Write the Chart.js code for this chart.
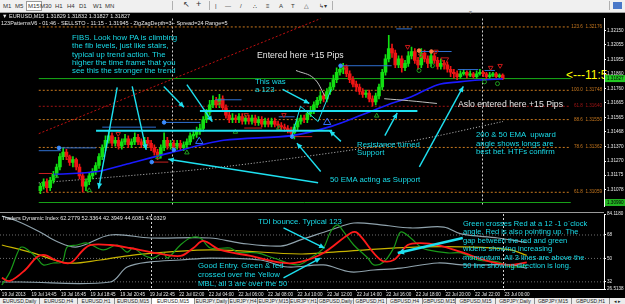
<!DOCTYPE html>
<html lang="en">
<head>
<meta charset="UTF-8">
<title>EURUSD,M15</title>
<script src="https://cdn.jsdelivr.net/npm/chart.js"></script>
<style>
  body { margin:0; width:625px; height:304px; background:#000; overflow:hidden; position:relative; font-family:"Liberation Sans", Arial, sans-serif; }
  #toolbar { position:absolute; left:0; top:0; width:625px; height:12px; background:#f0f0f0; border-bottom:1px solid #a0a0a0; }
  #toolbar span { position:absolute; top:2px; font-size:6px; line-height:8px; color:#333; }
  #toolbar .on { background:#fff; border:1px solid #9a9a9a; top:1px; padding:0 1px; }
  #toolbar .bar { width:1px; height:9px; background:#b0b0b0; top:1px; }
  #mainBox { position:absolute; left:0; top:13px; width:625px; height:199px; z-index:1; }
  #indBox { position:absolute; left:0; top:211px; width:625px; height:87px; z-index:1; }
  #sep { position:absolute; left:0; top:212px; width:604px; height:1px; background:#9a9a9a; z-index:1; }
  .info { position:absolute; color:#e8e8e8; font-size:5.5px; line-height:6px; white-space:nowrap; z-index:2; }
  .note { position:absolute; color:#19dbe8; font-size:7.8px; line-height:8.3px; white-space:pre; z-index:2; }
  .wnote { position:absolute; color:#e6e6e6; font-size:8.7px; line-height:10px; white-space:pre; z-index:2; }
  #timer { position:absolute; left:566px; top:69px; color:#ffff00; font-size:12px; line-height:12px; white-space:nowrap; z-index:0; }
  #tabs { position:absolute; left:0; top:298px; width:625px; height:6px; background:#d4d4d4; }
  #tabs span { position:absolute; top:0; height:6px; font-size:5px; line-height:7px; color:#222; text-align:center; background:#ececec; border-right:1px solid #8a8a8a; box-sizing:border-box; white-space:nowrap; overflow:hidden; }
  #tabs .act { background:#fff; }
</style>
</head>
<body>
<div id="toolbar">
  <span style="left:3px">M1</span><span style="left:15px">M5</span><span class="on" style="left:26px">M15</span>
  <span style="left:40px">M30</span><span style="left:55px">H1</span><span style="left:67px">H4</span>
  <span style="left:79px">D1</span><span style="left:93px">W1</span><span style="left:105px">MN</span>
  <span class="bar" style="left:172px"></span>
  <span style="left:183px;font-size:8px;top:1px">&#8598;</span><span style="left:196px;font-size:9px;top:0">+</span>
  <span class="bar" style="left:209px"></span>
  <span style="left:215px">|</span><span style="left:225px">&#8212;</span><span style="left:240px">/</span>
  <span style="left:253px">&#8756;</span><span style="left:266px">&#8801;</span><span style="left:279px">A</span>
  <span style="left:291px">T</span><span style="left:304px">&#9651;</span><span style="left:319px">&#8627;&#9662;</span>
  <span class="bar" style="left:332px"></span>
  <span style="left:468px;top:8px;color:#888;font-size:5px">&#9660;</span>
  <span class="bar" style="left:609px"></span>
  <span style="left:613px;width:9px;height:7px;background:#4a78c8;top:2px"></span>
</div>

<div id="mainBox"><canvas id="mainChart"></canvas></div>
<div id="sep"></div>
<div id="indBox"><canvas id="indChart"></canvas></div>

<div class="info" style="left:2px;top:13px">&#9660; EURUSD,M15  1.31829 1.31832 1.31827 1.31827</div>
<div class="info" style="left:1px;top:20px">123PatternsV6 - 01:46 - SELLSTO - 11:15 - 1.31945 - ZigZagDepth=3 - Spread=24 Range=5</div>
<div class="info" style="left:2px;top:215px">Traders Dynamic Index 62.2779 52.3364 42.3949 44.6081 47.0329</div>

<div class="note" style="left:72px;top:34px">FIBS. Look how PA is climbing
the fib levels, just like stairs,
typical up trend action. The
higher the time frame that you
see this the stronger the trend</div>
<div class="wnote" style="left:257px;top:50px">Entered here +15 Pips</div>
<div class="note" style="left:255px;top:78px">This was
a 123</div>
<div class="wnote" style="left:458px;top:99px">Aslo entered here +15 Pips</div>
<div class="note" style="left:476px;top:131px;line-height:8.5px">200 &amp; 50 EMA  upward
angle shows longs are
best bet. HTFs confirm</div>
<div class="note" style="left:357px;top:141px;line-height:8px">Resistance turned
Support</div>
<div class="note" style="left:330px;top:176px">50 EMA acting as Support</div>
<div id="timer">&lt;---11:5</div>

<div class="note" style="left:258px;top:218px">TDI bounce. Typical 123</div>
<div class="note" style="left:198px;top:261px;line-height:9px">Good Entry. Green &amp; red
crossed over the Yellow
MBL, all 3 are over the 50</div>
<div class="note" style="left:463px;top:220px;font-size:7.5px;line-height:8.4px">Green crosses Red at a 12 -1 o`clock
angle, Red is also pointing up. The
gap between the red and green
widens showing increasing
momentum. All 3 lines are above the
50 line showing direction is long.</div>

<div id="tabs">
  <span style="left:0;width:40px">EURUSD,Daily</span>
  <span style="left:40px;width:38px">EURUSD,H4</span>
  <span style="left:78px;width:37px">EURUSD,H1</span>
  <span style="left:115px;width:37px">EURUSD,M15</span>
  <span class="act" style="left:152px;width:43px">EURUSD,M15</span>
  <span style="left:195px;width:34px">EURJPY,Daily</span>
  <span style="left:229px;width:29px">EURJPY,H4</span>
  <span style="left:258px;width:32px">EURJPY,M15</span>
  <span style="left:290px;width:28px">EURJPY,H1</span>
  <span style="left:318px;width:36px">GBPUSD,Daily</span>
  <span style="left:354px;width:33px">GBPUSD,H1</span>
  <span style="left:387px;width:36px">GBPUSD,H4</span>
  <span style="left:423px;width:33px">GBPUSD,M15</span>
  <span style="left:456px;width:40px">GBPUSD,M15</span>
  <span style="left:496px;width:39px">GBPJPY,Daily</span>
  <span style="left:535px;width:37px">GBPJPY,M15</span>
  <span style="left:572px;width:38px">GBPUSD,H1</span>
  <span style="left:610px;width:15px;border:none">&#9666; &#9656;</span>
</div>

<script>
// ---- bar axis ----
const xMin = -0.5, xMax = 162.9;
const timeLabels = ['19 Jul 2013','19 Jul 14:45','19 Jul 16:45','19 Jul 18:45','19 Jul 20:45','19 Jul 22:45',
  '22 Jul 02:00','22 Jul 04:00','22 Jul 06:00','22 Jul 08:00','22 Jul 10:00','22 Jul 12:00',
  '22 Jul 14:00','22 Jul 16:00','22 Jul 18:00','22 Jul 20:00','22 Jul 22:00','23 Jul 00:00'];
const labelBars = [0,8,16,24,32,40,48,56,64,72,80,88,96,104,112,120,128,136];
const sepBars = [40.4, 135.5];

// ---- EURUSD M15 candles ----
const opens = [1.3107,1.3110,1.3113,1.3109,1.3114,1.3118,1.3123,1.3130,1.3133,1.3130,
  1.3126,1.3128,1.3123,1.3117,1.3110,1.3113,1.3117,1.3120,1.3124,1.3130,
  1.3136,1.3141,1.3144,1.3139,1.3141,1.3137,1.3140,1.3142,1.3138,1.3140,
  1.3143,1.3140,1.3138,1.3141,1.3139,1.3136,1.3133,1.3131,1.3136,1.3141,
  1.3137,1.3139,1.3137,1.3139,1.3136,1.3138,1.3140,1.3144,1.3145,1.3147,
  1.3149,1.3155,1.3160,1.3165,1.3168,1.3165,1.3169,1.3163,1.3158,1.3155,
  1.3156,1.3155,1.3157,1.3154,1.3156,1.3154,1.3156,1.3153,1.3155,1.3152,
  1.3154,1.3152,1.3154,1.3152,1.3151,1.3150,1.3149,1.3148,1.3146,1.3150,
  1.3154,1.3156,1.3155,1.3159,1.3161,1.3165,1.3168,1.3171,1.3169,1.3174,
  1.3177,1.3182,1.3187,1.3189,1.3190,1.3186,1.3182,1.3179,1.3177,1.3174,
  1.3172,1.3173,1.3169,1.3167,1.3171,1.3177,1.3187,1.3196,1.3203,1.3200,
  1.3192,1.3196,1.3190,1.3193,1.3198,1.3201,1.3195,1.3192,1.3200,1.3196,
  1.3193,1.3198,1.3195,1.3191,1.3193,1.3192,1.3189,1.3187,1.3186,1.3184,
  1.3186,1.3187,1.3185,1.3186,1.3184,1.3186,1.3187,1.3186,1.3184,1.3185,
  1.3186,1.3184,1.3185];
const highs = [1.3112,1.3115,1.3115,1.3116,1.3120,1.3125,1.3132,1.3136,1.3135,1.3131,
  1.3130,1.3129,1.3125,1.3119,1.3115,1.3119,1.3122,1.3126,1.3132,1.3138,
  1.3144,1.3147,1.3146,1.3143,1.3143,1.3142,1.3145,1.3144,1.3142,1.3146,
  1.3145,1.3142,1.3143,1.3143,1.3141,1.3138,1.3135,1.3138,1.3146,1.3143,
  1.3141,1.3141,1.3141,1.3141,1.3140,1.3142,1.3146,1.3148,1.3150,1.3152,
  1.3157,1.3162,1.3168,1.3171,1.3170,1.3172,1.3171,1.3165,1.3160,1.3159,
  1.3158,1.3159,1.3159,1.3158,1.3158,1.3158,1.3158,1.3157,1.3157,1.3156,
  1.3156,1.3156,1.3156,1.3154,1.3153,1.3152,1.3151,1.3150,1.3152,1.3156,
  1.3158,1.3158,1.3161,1.3164,1.3167,1.3170,1.3174,1.3173,1.3176,1.3180,
  1.3185,1.3190,1.3192,1.3193,1.3192,1.3188,1.3184,1.3181,1.3179,1.3176,
  1.3175,1.3175,1.3171,1.3173,1.3179,1.3189,1.3199,1.3212,1.3206,1.3202,
  1.3198,1.3198,1.3195,1.3201,1.3204,1.3203,1.3197,1.3203,1.3202,1.3198,
  1.3201,1.3200,1.3197,1.3196,1.3195,1.3194,1.3191,1.3189,1.3188,1.3188,
  1.3189,1.3188,1.3188,1.3187,1.3188,1.3189,1.3188,1.3187,1.3187,1.3187,
  1.3187,1.3186,1.3186];
const lows = [1.3105,1.3108,1.3106,1.3107,1.3112,1.3116,1.3121,1.3128,1.3128,1.3124,
  1.3123,1.3121,1.3115,1.3106,1.3107,1.3111,1.3115,1.3118,1.3122,1.3128,
  1.3134,1.3139,1.3137,1.3137,1.3135,1.3135,1.3138,1.3136,1.3136,1.3138,
  1.3138,1.3136,1.3136,1.3137,1.3134,1.3131,1.3128,1.3129,1.3134,1.3135,
  1.3135,1.3134,1.3135,1.3134,1.3134,1.3136,1.3138,1.3142,1.3143,1.3145,
  1.3147,1.3153,1.3158,1.3163,1.3163,1.3163,1.3161,1.3156,1.3153,1.3153,
  1.3153,1.3153,1.3152,1.3152,1.3152,1.3152,1.3151,1.3151,1.3150,1.3150,
  1.3150,1.3150,1.3150,1.3149,1.3148,1.3147,1.3146,1.3144,1.3142,1.3148,
  1.3152,1.3153,1.3153,1.3157,1.3159,1.3163,1.3166,1.3167,1.3167,1.3172,
  1.3175,1.3180,1.3185,1.3186,1.3184,1.3180,1.3177,1.3174,1.3172,1.3170,
  1.3170,1.3167,1.3164,1.3165,1.3169,1.3175,1.3185,1.3194,1.3197,1.3190,
  1.3190,1.3187,1.3188,1.3191,1.3196,1.3193,1.3189,1.3190,1.3194,1.3190,
  1.3191,1.3193,1.3189,1.3189,1.3189,1.3187,1.3184,1.3183,1.3182,1.3183,
  1.3185,1.3183,1.3184,1.3183,1.3183,1.3185,1.3184,1.3182,1.3183,1.3184,
  1.3183,1.3183,1.3182];
const closes = [1.3110,1.3113,1.3109,1.3114,1.3118,1.3123,1.3130,1.3133,1.3130,1.3126,
  1.3128,1.3123,1.3117,1.3110,1.3113,1.3117,1.3120,1.3124,1.3130,1.3136,
  1.3141,1.3144,1.3139,1.3141,1.3137,1.3140,1.3142,1.3138,1.3140,1.3143,
  1.3140,1.3138,1.3141,1.3139,1.3136,1.3133,1.3131,1.3136,1.3141,1.3137,
  1.3139,1.3137,1.3139,1.3136,1.3138,1.3140,1.3144,1.3145,1.3147,1.3149,
  1.3155,1.3160,1.3165,1.3168,1.3165,1.3169,1.3163,1.3158,1.3155,1.3156,
  1.3155,1.3157,1.3154,1.3156,1.3154,1.3156,1.3153,1.3155,1.3152,1.3154,
  1.3152,1.3154,1.3152,1.3151,1.3150,1.3149,1.3148,1.3146,1.3150,1.3154,
  1.3156,1.3155,1.3159,1.3161,1.3165,1.3168,1.3171,1.3169,1.3174,1.3177,
  1.3182,1.3187,1.3189,1.3190,1.3186,1.3182,1.3179,1.3177,1.3174,1.3172,
  1.3173,1.3169,1.3167,1.3171,1.3177,1.3187,1.3196,1.3203,1.3200,1.3192,
  1.3196,1.3190,1.3193,1.3198,1.3201,1.3195,1.3192,1.3200,1.3196,1.3193,
  1.3198,1.3195,1.3191,1.3193,1.3192,1.3189,1.3187,1.3186,1.3184,1.3186,
  1.3187,1.3185,1.3186,1.3184,1.3186,1.3187,1.3186,1.3184,1.3185,1.3186,
  1.3184,1.3185,1.31827];
const priceTicks = [1.32150,1.32055,1.31955,1.31860,1.31760,1.31665,1.31565,1.31468,1.31370,1.31270,1.31175,1.31078];
const bidPrice = 1.31827, lowLine = 1.30990;

// moving averages [bar, price]
const ema50 = [[4.1,1.31180],[17.6,1.31199],[26.6,1.31250],[40.1,1.31327],[56.3,1.31410],[77.2,1.31442],[89.6,1.31506],
  [98.8,1.31582],[107.7,1.31659],[113.1,1.31697],[122.1,1.31786],[128.6,1.31805],[134.8,1.31818],[142,1.31825]];
const ema200 = [[-0.5,1.31123],[18.4,1.31155],[56.3,1.31231],[113.1,1.31403],[142.1,1.31537]];

// fibonacci levels
const fibPrices = [1.32176, 1.31748, 1.31640, 1.31550, 1.31362, 1.31059];
const fibNames = ['123.6  1.32176','100.0  1.31748','61.8  1.31640','88.6  1.31550','78.6  1.31362','61.8  1.31059'];

// 123 pattern levels [fromBar, toBar, price]
const blueLevels = [[-0.5,6.3,1.31340],[5.7,17.1,1.31359],[19,35.5,1.31499],[38,49.1,1.31531],[53.7,61.8,1.31684],
  [73.2,78.1,1.31569],[92.2,107.9,1.31914],[109.3,114.1,1.32163],[116,126.3,1.32010],[128.2,134.5,1.31888],[136.4,139.6,1.31882]];
const redLevels = [[-0.5,3.6,1.31186],[34.2,39.3,1.31263],[62.6,68.1,1.31493],[78.1,83.5,1.31435]];
const blueDots = [[5.7,1.31359],[34.2,1.31263],[38,1.31531],[41,1.31346],[77.3,1.31435],[92.2,1.31914]];
const orangeDots = [[116.3,1.32016],[120.1,1.32010]];
const sellArrows = [[8.4,1.31295],[23.9,1.31454],[55.1,1.31659],[63.2,1.31582],[74.8,1.31582],[93.8,1.31901],
  [112.8,1.32042],[116.8,1.31984],[121.5,1.32010],[138.3,1.31901],[141.2,1.31914]];
const buyArrows = [[4.9,1.31167],[15,1.31072],[36.1,1.31295],[45,1.31327],[59.9,1.31467],[73.2,1.31493],[103.3,1.31576]];
const bigBuyArrows = [[48.8,1.31403],[88.1,1.31531]];
const zeroMarks = [[116.3,1.31882],[120.4,1.31914],[136.4,1.31805],[140.4,1.31793]];

// hand drawn objects
const trendLine = [[-0.5,1.31455],[86.1,1.32233]];
const cyanLevels = [[[49.0,1.31608],[115.8,1.31608]], [[17.1,1.31474],[89.6,1.31474]]];
const zigzag = [[77.2,1.31435],[79.9,1.31640],[85.3,1.31537],[89.3,1.31754]];
const grayCurves = [[[78.5,1.31882],[83.9,1.31831],[87.4,1.31710]], [[105.6,1.31691],[113.1,1.31678],[121.8,1.31659]]];
const mainArrows = [
  [[23.6,1.31767],[17.9,1.31084]], [[28.2,1.31774],[32.5,1.31346]], [[37.9,1.31774],[44.1,1.31633]],
  [[45,1.31786],[52.8,1.31537]], [[74.4,1.31754],[82.6,1.31659]], [[92.3,1.31403],[88.8,1.31474]],
  [[105.8,1.31442],[109.6,1.31595]], [[85.3,1.31123],[39.3,1.31282]], [[86.1,1.31199],[78.8,1.31391]],
  [[116.4,1.31231],[129.9,1.31774]]];

// ---- Traders Dynamic Index ----
const tdiUpper = [[0,82.6],[4.1,78.7],[10.3,70.3],[15.2,62.6],[20.4,58.8],[29.3,68.0],[40.2,65.7],[56.4,65.7],[64.5,61.8],
  [75.4,59.5],[80.8,64.2],[88.9,71.8],[95.2,77.2],[102.5,75.7],[110.6,73.4],[119.6,74.1],[124.2,68.8],[134.2,65.7],[142,62.3]];
const tdiLower = [[0,31.9],[4.9,31.9],[29.3,31.9],[33.9,43.4],[40.2,47.3],[48.3,48.8],[56.4,50.3],[70,48.8],[77.3,43.4],
  [87,45.0],[94.4,39.6],[100.6,41.1],[107.9,42.6],[117.9,46.5],[125,45.0],[137.7,45.0],[142,42.4]];
const tdiMbl = [[0,60.3],[8.4,54.2],[17.7,46.5],[26.6,48.8],[35.5,52.6],[56.4,56.5],[80.8,53.4],[89.7,54.9],[113.3,58.8],
  [130,58.5],[137.7,56.5],[142,52.3]];
const tdiSignal = [[0,35.0],[2.2,32.7],[6.3,41.1],[9.5,51.1],[11.7,52.6],[14.4,48.8],[18.5,46.5],[22,56.5],[23.9,60.3],
  [29.3,60.3],[34.7,58.0],[40.2,54.9],[48.3,51.9],[51.8,58.0],[54.5,63.4],[59.1,56.5],[67.3,51.9],[76.2,46.5],[80.8,47.3],
  [87,54.2],[94.4,69.5],[96.2,69.5],[102.5,48.8],[106,48.8],[109.8,60.3],[113.3,61.8],[117.9,60.3],[125,54.2],[130.4,48.8],
  [136.9,45.0],[142,47.0]];
const tdiPrice = [[0,29.6],[2.2,39.6],[4.9,58.0],[6.3,58.0],[9.5,50.3],[11.2,45.0],[13.9,46.5],[16.3,47.3],[17.7,58.8],
  [20.4,60.3],[23.1,61.8],[27.4,56.5],[31.2,60.3],[33.9,54.9],[35.5,58.0],[38.3,52.6],[41,50.3],[43.7,54.2],[44.8,50.3],
  [48.3,60.3],[51,65.7],[53.7,65.7],[56.4,58.0],[61.8,58.0],[63.7,54.9],[69.1,54.2],[73.5,50.3],[80,45.0],[83.5,50.3],
  [87,58.0],[88.9,70.3],[90.8,75.7],[92.5,70.3],[95.2,60.3],[99,50.3],[100.6,45.0],[103.3,47.3],[106,58.0],[107.9,70.3],
  [110.6,65.7],[113.3,58.8],[115.2,56.5],[120.6,54.2],[124.2,54.2],[128.8,48.8],[134.2,47.3],[137.7,43.4],[142,44.6]];
const tdiLevels = [68, 50, 32];
const tdiTicks = [26.5138, 32, 50, 68, 84.1180];
const tdiTickText = ['26.5138', '32', '50', '68', '84.1180'];
const tdiArrows = [[[76.2,73.4],[87.3,58.0]], [[76.2,35.0],[86.2,50.3]], [[124.7,65.7],[107.1,54.2]]];

// ---- helpers ----
const UP = '#12e012', DOWN = '#f01414', CYAN = '#1ee0f0';
const tickFont = {size: 4.6, family: 'Liberation Sans'};
const pts = a => a.map(p => ({x: p[0], y: p[1]}));
function line(points, color, width, dash, order, extra) {
  return Object.assign({type: 'line', data: pts(points), borderColor: color, borderWidth: width,
    borderDash: dash || [], pointRadius: 0, fill: false, order: order}, extra || {});
}
function marks(points, color, style, radius, rot, order) {
  return {type: 'line', data: pts(points), showLine: false, pointStyle: style, pointRadius: radius,
    pointRotation: rot, pointBorderColor: color, pointBackgroundColor: 'rgba(0,0,0,0)', pointBorderWidth: 1, order: order};
}

const arrowHeads = {
  id: 'arrowHeads',
  afterDatasetsDraw(chart) {
    const ctx = chart.ctx;
    chart.data.datasets.forEach((ds, di) => {
      if (!ds.arrow) return;
      const el = chart.getDatasetMeta(di).data;
      const a = el[el.length - 2], b = el[el.length - 1];
      const ang = Math.atan2(b.y - a.y, b.x - a.x);
      const len = ds.head || 6;
      ctx.save();
      ctx.fillStyle = ds.borderColor;
      ctx.beginPath();
      ctx.moveTo(b.x, b.y);
      ctx.lineTo(b.x - len * Math.cos(ang - 0.45), b.y - len * Math.sin(ang - 0.45));
      ctx.lineTo(b.x - len * Math.cos(ang + 0.45), b.y - len * Math.sin(ang + 0.45));
      ctx.closePath();
      ctx.fill();
      ctx.restore();
    });
  }
};

const separators = {
  id: 'separators',
  beforeDatasetsDraw(chart) {
    const {ctx, chartArea, scales} = chart;
    ctx.save();
    ctx.strokeStyle = '#d0d0d0';
    ctx.lineWidth = 1;
    ctx.setLineDash([2, 2]);
    sepBars.forEach(b => {
      const x = Math.round(scales.x.getPixelForValue(b)) + 0.5;
      ctx.beginPath();
      ctx.moveTo(x, chartArea.top);
      ctx.lineTo(x, chartArea.bottom);
      ctx.stroke();
    });
    ctx.restore();
  }
};

const fibTags = {
  id: 'fibTags',
  afterDatasetsDraw(chart) {
    const {ctx, chartArea} = chart;
    ctx.save();
    ctx.font = '4.6px "Liberation Sans", Arial';
    ctx.textAlign = 'right';
    ctx.textBaseline = 'bottom';
    chart.data.datasets.forEach((ds, di) => {
      if (!ds.tag) return;
      const el = chart.getDatasetMeta(di).data[0];
      ctx.fillStyle = ds.borderColor;
      ctx.fillText(ds.tag, chartArea.right - 2, el.y + 2);
    });
    ctx.restore();
  }
};

const priceBoxes = {
  id: 'priceBoxes',
  afterDraw(chart) {
    const {ctx, chartArea, scales} = chart;
    ctx.save();
    ctx.font = '4.6px "Liberation Sans", Arial';
    ctx.textBaseline = 'middle';
    [[bidPrice, '#22c822'], [lowLine, '#22b422']].forEach(([p, c]) => {
      const y = scales.y.getPixelForValue(p);
      ctx.fillStyle = c;
      ctx.fillRect(chartArea.right + 1, y - 3.5, 20, 7);
      ctx.fillStyle = '#000';
      ctx.fillText(p.toFixed(5), chartArea.right + 3, y);
    });
    ctx.restore();
  }
};

// ---- main chart ----
const mainSets = [];
fibPrices.forEach((p, i) => mainSets.push(line([[xMin, p], [xMax, p]], i === 2 ? '#a01414' : '#c8781e', 1, [2, 2], 30, {tag: fibNames[i]})));
mainSets.push(line([[xMin, bidPrice], [xMax, bidPrice]], '#18b018', 1, [], 29));
mainSets.push(line([[xMin, lowLine], [xMax, lowLine]], '#18a018', 1, [], 29));
mainSets.push(line(trendLine, '#c01010', 1, [2, 2], 28));
mainSets.push(line(ema200, '#c8c8c8', 1, [1, 2], 27, {tension: 0.3}));
mainSets.push({type: 'bar', data: lows.map((l, i) => ({x: i, y: [l, highs[i]]})), barThickness: 1, grouped: false,
  backgroundColor: c => closes[c.dataIndex] >= opens[c.dataIndex] ? UP : DOWN, order: 21});
mainSets.push({type: 'bar', data: closes.map((c, i) => ({x: i, y: [opens[i], c]})), barThickness: 3, minBarLength: 1, grouped: false,
  backgroundColor: c => closes[c.dataIndex] >= opens[c.dataIndex] ? UP : DOWN, order: 20});
mainSets.push(line(ema50, '#1a1aff', 1.6, [], 10, {tension: 0.3}));
blueLevels.forEach(l => mainSets.push(line([[l[0], l[2]], [l[1], l[2]]], '#2f6fd0', 1, [], 9)));
redLevels.forEach(l => mainSets.push(line([[l[0], l[2]], [l[1], l[2]]], '#c82020', 1, [], 9)));
mainSets.push(Object.assign(marks(blueDots, '#3a8cff', 'circle', 1.8, 0, 8), {pointBackgroundColor: '#3a8cff'}));
mainSets.push(Object.assign(marks(orangeDots, '#ff7840', 'circle', 1.8, 0, 8), {pointBackgroundColor: '#ff7840'}));
mainSets.push(marks(sellArrows, '#c81818', 'triangle', 2.6, 180, 8));
mainSets.push(marks([[124.2, 1.31952]], '#c81818', 'triangle', 4.5, 180, 8));
mainSets.push(marks(buyArrows, '#1e9e1e', 'triangle', 2.6, 0, 8));
mainSets.push(marks(bigBuyArrows, '#2f6fff', 'triangle', 4.2, 0, 8));
mainSets.push(marks(zeroMarks, '#1e9e1e', 'circle', 2, 0, 8));
cyanLevels.forEach(l => mainSets.push(line(l, CYAN, 2, [], 3)));
mainSets.push(line(zigzag, CYAN, 1, [], 3));
grayCurves.forEach(c => mainSets.push(line(c, '#c0c0c0', 1, [], 3, {tension: 0.4})));
mainArrows.forEach(a => mainSets.push(line(a, CYAN, 1.4, [], 2, {arrow: true, head: 6})));

new Chart(document.getElementById('mainChart'), {
  type: 'bar',
  data: {datasets: mainSets},
  plugins: [separators, fibTags, arrowHeads, priceBoxes],
  options: {
    animation: false, responsive: true, maintainAspectRatio: false,
    layout: {padding: 0},
    plugins: {legend: {display: false}, tooltip: {enabled: false}},
    scales: {
      x: {type: 'linear', min: xMin, max: xMax, display: false},
      y: {
        position: 'right', min: 1.30963, max: 1.32233,
        grid: {drawOnChartArea: false, tickLength: 2, tickColor: '#fff'},
        border: {color: '#fff', width: 1},
        ticks: {color: '#e8e8e8', padding: 1, font: tickFont, callback: v => v.toFixed(5)},
        afterBuildTicks: s => { s.ticks = priceTicks.map(v => ({value: v})); },
        afterFit: s => { s.width = 21; s.paddingTop = 0; s.paddingBottom = 0; }
      }
    }
  }
});

// ---- indicator chart ----
const indSets = [];
tdiLevels.forEach(v => indSets.push(line([[xMin, v], [xMax, v]], '#707070', 1, [1, 2], 20)));
indSets.push(line(tdiUpper, '#8fa2ac', 1.2, [], 10, {tension: 0.35}));
indSets.push(line(tdiLower, '#8fa2ac', 1.2, [], 10, {tension: 0.35}));
indSets.push(line(tdiMbl, '#c8b400', 1.2, [], 9, {tension: 0.35}));
indSets.push(line(tdiPrice, '#1a9a1a', 1.2, [], 8, {tension: 0.35}));
indSets.push(line(tdiSignal, '#ff1a1a', 1.8, [], 7, {tension: 0.35}));
tdiArrows.forEach((a, i) => indSets.push(line(a, CYAN, i === 2 ? 2.6 : 1.4, [], 2, {arrow: true, head: i === 2 ? 7 : 6})));

new Chart(document.getElementById('indChart'), {
  type: 'line',
  data: {datasets: indSets},
  plugins: [separators, arrowHeads],
  options: {
    animation: false, responsive: true, maintainAspectRatio: false,
    layout: {padding: {top: 3, left: 0, right: 0, bottom: 0}},
    plugins: {legend: {display: false}, tooltip: {enabled: false}},
    scales: {
      x: {
        type: 'linear', min: xMin, max: xMax,
        grid: {drawOnChartArea: false, tickLength: 2, tickColor: '#a0a0a0'},
        border: {color: '#fff', width: 1},
        ticks: {color: '#e8e8e8', padding: 1, align: 'start', autoSkip: false, maxRotation: 0,
          font: tickFont, callback: (v, i) => timeLabels[i]},
        afterBuildTicks: s => { s.ticks = labelBars.map(v => ({value: v})); },
        afterFit: s => { s.height = 9; s.paddingLeft = 0; s.paddingRight = 0; }
      },
      y: {
        position: 'right', min: 26.5138, max: 84.1180,
        grid: {drawOnChartArea: false, tickLength: 2, tickColor: '#fff'},
        border: {color: '#fff', width: 1},
        ticks: {color: '#e8e8e8', padding: 1, font: tickFont, callback: (v, i) => tdiTickText[i]},
        afterBuildTicks: s => { s.ticks = tdiTicks.map(v => ({value: v})); },
        afterFit: s => { s.width = 21; s.paddingTop = 0; s.paddingBottom = 0; }
      }
    }
  }
});
</script>
</body>
</html>
